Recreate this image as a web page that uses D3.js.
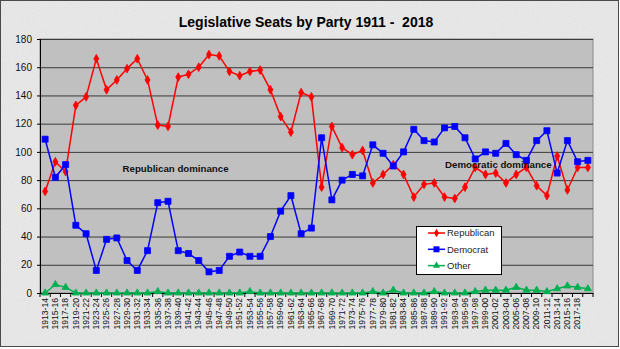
<!DOCTYPE html>
<html>
<head>
<meta charset="utf-8">
<script src="https://cdn.jsdelivr.net/npm/d3@7"></script>
<style>
  body { margin: 0; background: #fff; }
  svg { display: block; font-family: "Liberation Sans", Arial, sans-serif; }
</style>
</head>
<body>
<svg id="chart" width="620" height="349"></svg>
<script>
// session labels (last category has no label in the source sheet)
const sessions = [
    "1913-14", "1915-16", "1917-18", "1919-20", "1921-22", "1923-24", "1925-26", "1927-28", "1929-30",
    "1931-32", "1933-34", "1935-36", "1937-38", "1939-40", "1941-42", "1943-44", "1945-46", "1947-48",
    "1949-50", "1951-52", "1953-54", "1955-56", "1957-58", "1959-60", "1961-62", "1963-64", "1965-66",
    "1967-68", "1969-70", "1971-72", "1973-74", "1975-76", "1977-78", "1979-80", "1981-82", "1983-84",
    "1985-86", "1987-88", "1989-90", "1991-92", "1993-94", "1995-96", "1997-98", "1999-00", "2001-02",
    "2003-04", "2005-06", "2007-08", "2009-10", "2011-12", "2013-14", "2015-16", "2017-18", ""
];

const republican = [72, 93, 86, 133, 139, 166, 144, 151, 159, 166, 151, 119, 118, 153, 155, 160, 169, 168,
    157, 154, 157, 158, 144, 125, 114, 142, 139, 75, 118, 103, 98, 101, 78, 84, 91, 84,
    68, 77, 78, 68, 67, 75, 89, 84, 85, 78, 84, 89, 76, 69, 97, 73, 89, 89];

const democrat = [109, 82, 91, 48, 42, 16, 38, 39, 23, 16, 30, 64, 65, 30, 28, 23, 15, 16,
    26, 29, 26, 26, 40, 58, 69, 42, 46, 110, 66, 80, 84, 83, 105, 99, 90, 100,
    116, 108, 107, 117, 118, 110, 95, 100, 99, 106, 98, 94, 108, 115, 85, 108, 93, 94];

const other = [0, 6, 4, 0, 0, 0, 0, 0, 0, 0, 0, 1, 0, 0, 0, 0, 0, 0,
    0, 0, 1, 0, 0, 0, 0, 0, 0, 0, 0, 0, 0, 0, 1, 0, 2, 0,
    0, 0, 1, 0, 0, 0, 1, 2, 2, 2, 4, 2, 2, 1, 3, 5, 4, 3];

const yTicks = [0, 20, 40, 60, 80, 100, 120, 140, 160, 180];

const SERIES = [
    { name: 'Republican', values: republican, color: '#ff0000', symbol: d3.symbolDiamond, size: 22 },
    { name: 'Democrat', values: democrat, color: '#0000ff', symbol: d3.symbolSquare, size: 36 },
    { name: 'Other', values: other, color: '#00b050', symbol: d3.symbolTriangle, size: 22 }
];

const COLORS = {
    background: '#e8e8e8',
    plot: '#c0c0c0',
    grid: '#3a3a3a',
    text: '#000'
};

const plot = { left: 40, right: 593, top: 39, bottom: 293 };

var svg = d3.select('#chart');

// textured chart background
var defs = svg.append('defs');
var grain = defs.append('filter').attr('id', 'grain').attr('x', 0).attr('y', 0).attr('width', '100%').attr('height', '100%');
grain.append('feTurbulence').attr('type', 'fractalNoise').attr('baseFrequency', 0.9).attr('numOctaves', 2).attr('seed', 3).attr('result', 'noise');
grain.append('feColorMatrix').attr('in', 'noise').attr('type', 'matrix')
    .attr('values', '0 0 0 0 0.55  0 0 0 0 0.55  0 0 0 0 0.55  0.9 0 0 0 -0.35');
grain.append('feComposite').attr('in2', 'SourceGraphic').attr('operator', 'in');

svg.append('rect')
    .attr('x', 0.5).attr('y', 0.5).attr('width', 618).attr('height', 346)
    .attr('fill', COLORS.background);
svg.append('rect')
    .attr('x', 0.5).attr('y', 0.5).attr('width', 618).attr('height', 346)
    .attr('fill', '#fff').attr('filter', 'url(#grain)').attr('opacity', 0.5);
svg.append('rect')
    .attr('x', 0.5).attr('y', 0.5).attr('width', 618).attr('height', 346)
    .attr('fill', 'none').attr('stroke', '#4a4a4a');

svg.append('text')
    .attr('x', 306).attr('y', 27)
    .attr('text-anchor', 'middle')
    .attr('font-size', 14).attr('font-weight', 'bold')
    .attr('fill', COLORS.text)
    .attr('xml:space', 'preserve')
    .text('Legislative Seats by Party 1911 -  2018');

var x = d3.scaleBand()
    .domain(d3.range(sessions.length))
    .range([plot.left, plot.right]);

var y = d3.scaleLinear()
    .domain([0, 180])
    .range([plot.bottom, plot.top]);

var cx = (i) => x(i) + x.bandwidth() / 2;

svg.append('rect')
    .attr('x', plot.left).attr('y', plot.top)
    .attr('width', plot.right - plot.left).attr('height', plot.bottom - plot.top)
    .attr('fill', COLORS.plot)
    .attr('stroke', '#8a8a8a');

// gridlines
svg.append('g')
    .attr('transform', 'translate(' + plot.left + ',0)')
    .call(d3.axisLeft(y).tickValues(yTicks.slice(1)).tickSize(-(plot.right - plot.left)).tickFormat(''))
    .call((g) => g.select('.domain').remove())
    .selectAll('line')
    .attr('stroke', COLORS.grid);

// y axis
var yAxis = svg.append('g')
    .attr('transform', 'translate(' + plot.left + ',0)')
    .call(d3.axisLeft(y).tickValues(yTicks).tickSize(3).tickPadding(5));
yAxis.select('.domain').attr('stroke', '#000');
yAxis.selectAll('line').attr('stroke', '#000');
yAxis.selectAll('text').attr('font-size', 10).attr('fill', '#111').attr('font-family', '"Liberation Sans", Arial, sans-serif');

// x axis: labels at category centres, ticks between categories
var xAxis = svg.append('g')
    .attr('transform', 'translate(0,' + plot.bottom + ')')
    .call(d3.axisBottom(x).tickSize(0).tickFormat((i) => sessions[i]));
xAxis.select('.domain').attr('stroke', '#000');
xAxis.selectAll('text')
    .attr('font-size', 8.6)
    .attr('fill', '#111')
    .attr('font-family', '"Liberation Sans", Arial, sans-serif')
    .attr('text-anchor', 'end')
    .attr('transform', 'rotate(-90)')
    .attr('x', -5)
    .attr('y', 0)
    .attr('dy', '0.32em');

svg.append('g')
    .selectAll('line')
    .data(d3.range(sessions.length + 1))
    .enter()
    .append('line')
    .attr('x1', (i) => plot.left + i * x.step())
    .attr('x2', (i) => plot.left + i * x.step())
    .attr('y1', plot.bottom)
    .attr('y2', plot.bottom + 4)
    .attr('stroke', '#000');

// series lines and markers
var line = d3.line()
    .x((d, i) => cx(i))
    .y((d) => y(d));

SERIES.forEach((s) => {
    var g = svg.append('g').attr('class', 'series');
    g.append('path')
        .datum(s.values)
        .attr('d', line)
        .attr('fill', 'none')
        .attr('stroke', s.color)
        .attr('stroke-width', 1.5);
    g.selectAll('path.marker')
        .data(s.values)
        .enter()
        .append('path')
        .attr('class', 'marker')
        .attr('transform', (d, i) => 'translate(' + cx(i) + ',' + y(d) + ')')
        .attr('d', d3.symbol().type(s.symbol).size(s.size))
        .attr('fill', s.color)
        .attr('stroke', s.color)
        .attr('stroke-width', 0.8);
});

// annotations
svg.append('text')
    .attr('x', 122.5).attr('y', 171.5)
    .attr('font-size', 9.7).attr('font-weight', 'bold')
    .attr('fill', '#111')
    .text('Republican dominance');
svg.append('text')
    .attr('x', 445).attr('y', 167.5)
    .attr('font-size', 9.7).attr('font-weight', 'bold')
    .attr('fill', '#111')
    .text('Democratic dominance');

// legend
var legend = svg.append('g').attr('transform', 'translate(416,226)');
legend.append('rect')
    .attr('x', 0.5).attr('y', 0.5).attr('width', 85).attr('height', 48)
    .attr('fill', '#fff').attr('stroke', '#000');
var items = legend.selectAll('g.item')
    .data(SERIES)
    .enter()
    .append('g')
    .attr('class', 'item')
    .attr('transform', (d, i) => 'translate(0,' + (7 + i * 16.3) + ')');
items.append('line')
    .attr('x1', 12).attr('x2', 29)
    .attr('stroke', (d) => d.color).attr('stroke-width', 1.5);
items.append('path')
    .attr('transform', 'translate(20.5,0)')
    .attr('d', (d) => d3.symbol().type(d.symbol).size(d.size)())
    .attr('fill', (d) => d.color);
items.append('text')
    .attr('x', 31).attr('dy', '0.35em')
    .attr('font-size', 9.5)
    .attr('fill', '#222')
    .text((d) => d.name);
</script>
</body>
</html>
